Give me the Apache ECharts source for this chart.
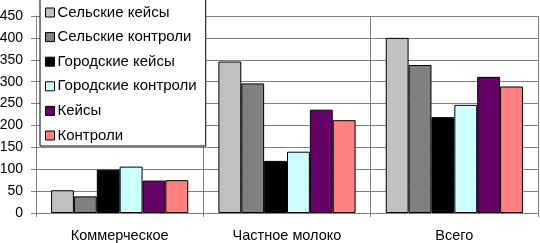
<!DOCTYPE html>
<html><head><meta charset="utf-8">
<script src="https://cdn.jsdelivr.net/npm/echarts@6/dist/echarts.min.js"></script>
<style>html,body{margin:0;padding:0;background:#fff}#c{width:540px;height:243px}</style>
</head><body><div id="c"></div>
<script>
const categories = ['Коммерческое', 'Частное молоко', 'Всего'];
const seriesNames = ['Сельские кейсы', 'Сельские контроли', 'Городские кейсы', 'Городские контроли', 'Кейсы', 'Контроли'];
const ruralCases = [52, 346, 400];
const ruralControls = [38, 296, 338];
const urbanCases = [99, 119, 219];
const urbanControls = [106, 140, 247];
const cases = [74, 236, 311];
const controls = [75, 212, 289];
const yTicks = [0, 50, 100, 150, 200, 250, 300, 350, 400, 450];
const colors = ['#C0C0C0', '#808080', '#000000', '#CCFFFF', '#660066', '#FF8080'];
const values = [ruralCases, ruralControls, urbanCases, urbanControls, cases, controls];

const chart = echarts.init(document.getElementById('c'), null, {renderer: 'canvas'});
const font = 'Liberation Sans, Arial, sans-serif';
chart.setOption({
  animation: false,
  backgroundColor: '#fff',
  textStyle: {fontFamily: font},
  grid: {left: 36, right: 2, top: 16, bottom: 30, containLabel: false, outerBoundsMode: 'none'},
  legend: {
    orient: 'vertical', left: 40, top: -1,
    itemWidth: 9, itemHeight: 9, itemGap: 9.6,
    backgroundColor: '#fff', borderColor: '#000', borderWidth: 1,
    padding: [6, 9, 3, 5],
    icon: 'rect',
    textStyle: {fontFamily: font, fontSize: 15, color: '#000', padding: [0, 0, 0, -2]},
    data: seriesNames.map((n, i) => ({name: n, itemStyle: {color: colors[i], borderColor: '#000', borderWidth: 1}}))
  },
  xAxis: {
    type: 'category', data: categories,
    axisLine: {lineStyle: {color: '#808080'}},
    axisTick: {show: true, length: 4, lineStyle: {color: '#808080'}},
    axisLabel: {fontFamily: font, fontSize: 14.5, color: '#000', margin: 15},
    splitLine: {show: true, lineStyle: {color: '#808080'}}
  },
  yAxis: {
    type: 'value', min: yTicks[0], max: yTicks[yTicks.length - 1], interval: yTicks[1] - yTicks[0],
    axisLine: {show: true, lineStyle: {color: '#808080'}},
    axisTick: {show: true, length: 5, lineStyle: {color: '#808080'}},
    axisLabel: {fontFamily: font, fontSize: 14, color: '#000', margin: 13},
    splitLine: {show: true, lineStyle: {color: '#808080'}}
  },
  series: seriesNames.map((n, i) => ({
    name: n, type: 'bar', data: values[i],
    barGap: '0%', barCategoryGap: '18%',
    itemStyle: {color: colors[i], borderColor: '#000', borderWidth: 1}
  }))
});
</script></body></html>
